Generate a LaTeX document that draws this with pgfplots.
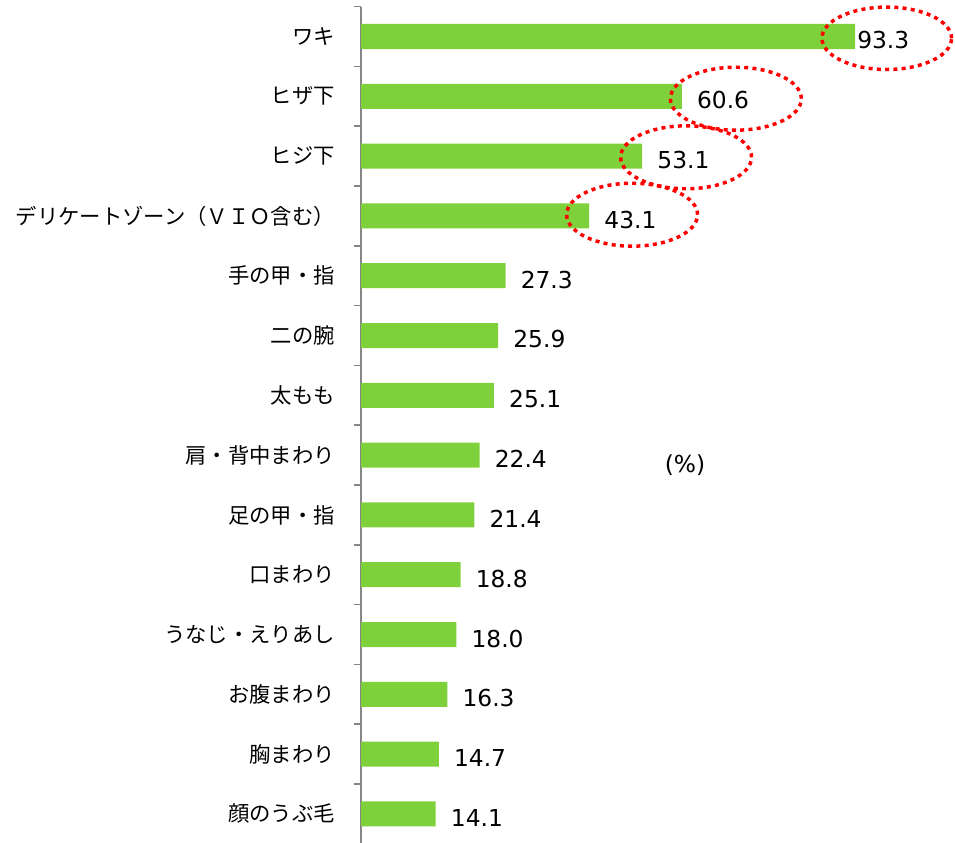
\documentclass[border=0pt]{standalone}
\usepackage{pgfplots}
\pgfplotsset{compat=1.18}
\usepackage{pgfplotstable}
\usepackage{fontspec}
\newfontfamily\cjk{Noto Sans CJK JP}
\newfontfamily\dejavu{DejaVu Sans}
\definecolor{barg}{RGB}{127,209,59}
\definecolor{axgray}{RGB}{134,134,134}
\definecolor{ellred}{RGB}{255,0,0}
\pgfplotstableread{
idx label value shift
0 ワキ 93.3 1.5
1 ヒザ下 60.6 11.25
2 ヒジ下 53.1 11.25
3 デリケートゾーン（ＶＩＯ含む） 43.1 11.25
4 手の甲・指 27.3 11.25
5 二の腕 25.9 11.25
6 太もも 25.1 11.25
7 肩・背中まわり 22.4 11.25
8 足の甲・指 21.4 11.25
9 口まわり 18.8 11.25
10 うなじ・えりあし 18.0 11.25
11 お腹まわり 16.3 11.25
12 胸まわり 14.7 11.25
13 顔のうぶ毛 14.1 11.25
}\datatable
\begin{document}
\begin{tikzpicture}
\useasboundingbox (0,0) rectangle (716.25pt,631.5pt);
\begin{axis}[
  at={(270.75pt,626.55pt)}, anchor=north west,
  x=3.971pt, y=44.85pt,
  xmin=0, xmax=100,
  ymin=-0.5, ymax=13.5,
  y dir=reverse,
  axis x line=none,
  axis y line*=left,
  y axis line style={-, draw=axgray, line width=1.3pt},
  ytick={0,...,13},
  yticklabels from table={\datatable}{label},
  minor ytick={-0.5,0.5,...,13.5},
  major tick length=0pt,
  minor tick length=5.5pt,
  tick align=outside,
  minor tick style={draw=axgray, line width=1.3pt},
  major tick style={draw=none},
  yticklabel style={font=\cjk\fontsize{16pt}{19pt}\selectfont, anchor=east, inner sep=0pt, xshift=-19.5pt},
  clip=false,
  xbar, bar width=18.75pt,
  nodes near coords={\pgfmathprintnumber[fixed, fixed zerofill, precision=1]{\pgfplotspointmeta}},
  /pgf/number format/assume math mode=true,
]
\addplot[fill=barg, draw=none,
  visualization depends on={\thisrow{shift} \as \labshift},
  every node near coord/.append style={font=\dejavu\fontsize{17.5pt}{20pt}\selectfont, anchor=west, inner sep=0pt, xshift=\labshift, yshift=-3pt, text=black}
] table[x=value, y=idx] {\datatable};
\draw[ellred, line width=2.6pt, dash pattern=on 3pt off 3.2pt] (axis cs:99.3,0.03) ellipse [x radius=48.6pt, y radius=23.4pt];
\draw[ellred, line width=2.6pt, dash pattern=on 3pt off 3.2pt] (axis cs:70.8,1.04) ellipse [x radius=49.1pt, y radius=23.6pt];
\draw[ellred, line width=2.6pt, dash pattern=on 3pt off 3.2pt] (axis cs:61.4,2.02) ellipse [x radius=49.1pt, y radius=23.6pt];
\draw[ellred, line width=2.6pt, dash pattern=on 3pt off 3.2pt] (axis cs:51.2,2.98) ellipse [x radius=49.1pt, y radius=23.6pt];
\node[font=\dejavu\fontsize{17.5pt}{20pt}\selectfont, inner sep=0pt] at (axis cs:61.2,7.17) {(\%)};
\end{axis}
\end{tikzpicture}
\end{document}
